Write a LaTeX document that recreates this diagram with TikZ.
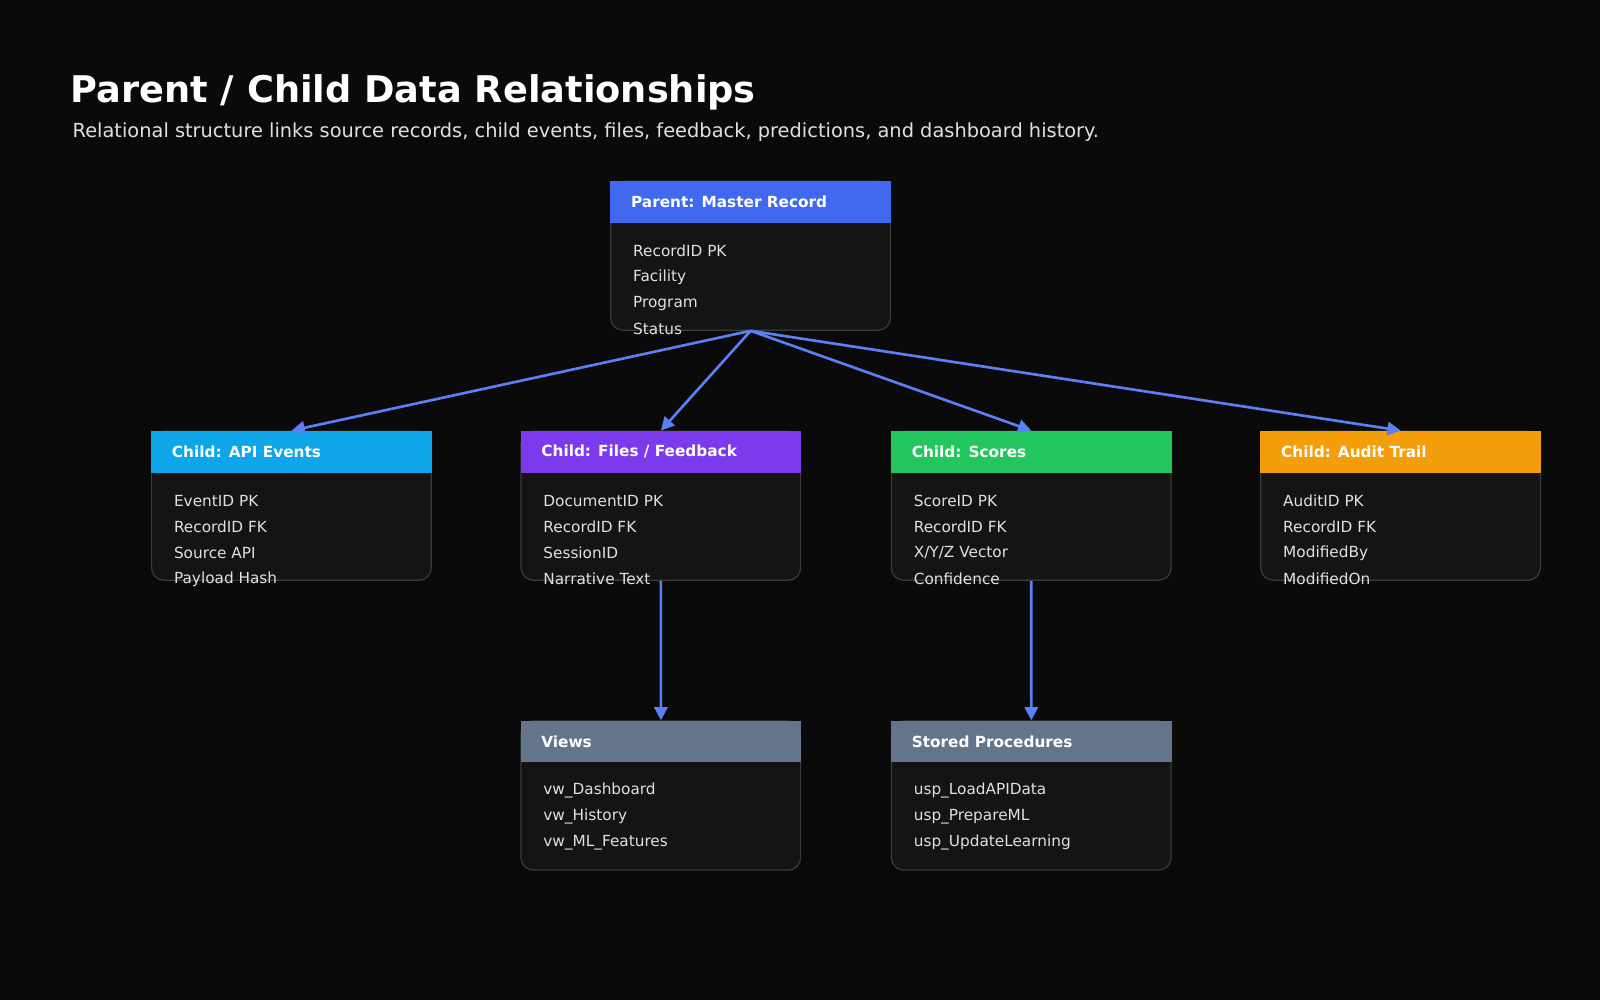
\documentclass[tikz,border=0pt]{standalone}
\usepackage{fontspec}
\setmainfont{DejaVu Sans}
\usetikzlibrary{arrows.meta,positioning}
\definecolor{bg}{HTML}{0A0A0A}
\definecolor{bodyc}{HTML}{141414}
\definecolor{edgec}{HTML}{3A3A3A}
\definecolor{cblue}{HTML}{4169F0}
\definecolor{csky}{HTML}{0EA5E9}
\definecolor{cpurple}{HTML}{7C3AED}
\definecolor{cgreen}{HTML}{22C55E}
\definecolor{camber}{HTML}{F59E0B}
\definecolor{cslate}{HTML}{64748B}
\definecolor{arr}{HTML}{5B7FF5}
\definecolor{txt}{HTML}{E0E0E0}
\tikzset{
  body/.style={draw=edgec,fill=bodyc,line width=1.2pt,rounded corners=12pt,minimum width=274pt,minimum height=146pt,inner sep=0pt,anchor=north west},
  head/.style={fill=#1,minimum width=275pt,minimum height=41pt,inner sep=0pt,anchor=north west},
  htext/.style={text=white,font=\bfseries\fontsize{15}{18}\selectfont,anchor=west},
  ltext/.style={text=txt,font=\fontsize{15}{18}\selectfont,anchor=west,align=left},
  conn/.style={draw=arr,line width=2.6pt,-{Triangle[length=13pt,width=13pt]}}
}
\newcommand{\mytbl}[7]{%
  \node[body] (#1) at (#2,#3) {};
  \node[head=#4] (#1h) at (#2,#3) {};
  \node[htext] (#1t) at ([xshift=17pt]#1h.west) {#5};
  \node[ltext] (#1a) at (#2+19,#3+69) {#6};
  \node[ltext,below=7.5pt of #1a.south west,anchor=north west,inner xsep=0pt] (#1b) {};
  \foreach \l [count=\i from 0] in {#7} {\node[ltext] at (#2+19,#3+69+\i*25.5) {\l};}
}
\begin{document}
\begin{tikzpicture}[x=1pt,y=-1pt]
\fill[bg] (0,0) rectangle (1568,980);
\useasboundingbox (0,0) rectangle (1568,980);
\node[anchor=base west,text=white,font=\bfseries\fontsize{36}{40}\selectfont,inner sep=0pt] (title) at (69,100) {Parent / Child Data Relationships};
\node[anchor=base west,text=txt,font=\fontsize{19}{22}\selectfont,inner sep=0pt] (sub) at (71,135) {Relational structure links source records, child events, files, feedback, predictions, and dashboard history.};
\newcommand{\tb}[6]{%
  \node[body] (#1) at (#2,#3) {};
  \node[head=#4] (#1h) at (#2,#3) {};
  \node[htext] (#1t) at ([xshift=17pt]#1h.west) {#5};
  \foreach \l [count=\i from 0] in {#6} {\node[ltext] (#1l\i) at (#2+19,#3+69+\i*25.5) {\l};}
}
\tb{p}{598}{177}{cblue}{Parent: Master Record}{RecordID PK,Facility,Program,Status}
\tb{a}{148}{422}{csky}{Child: API Events}{EventID PK,RecordID FK,Source API,Payload Hash}
\tb{f}{510}{422}{cpurple}{Child: Files / Feedback}{DocumentID PK,RecordID FK,SessionID,Narrative Text}
\tb{s}{873}{422}{cgreen}{Child: Scores}{ScoreID PK,RecordID FK,X/Y/Z Vector,Confidence}
\tb{u}{1235}{422}{camber}{Child: Audit Trail}{AuditID PK,RecordID FK,ModifiedBy,ModifiedOn}
\tb{v}{510}{706}{cslate}{Views}{vw\_Dashboard,vw\_History,vw\_ML\_Features}
\tb{sp}{873}{706}{cslate}{Stored Procedures}{usp\_LoadAPIData,usp\_PrepareML,usp\_UpdateLearning}
\draw[conn] (p.south) -- (ah.north);
\draw[conn] (p.south) -- (fh.north);
\draw[conn] (p.south) -- (sh.north);
\draw[conn] (p.south) -- (uh.north);
\draw[conn] (f.south) -- (vh.north);
\draw[conn] (s.south) -- (sph.north);
\end{tikzpicture}
\end{document}
